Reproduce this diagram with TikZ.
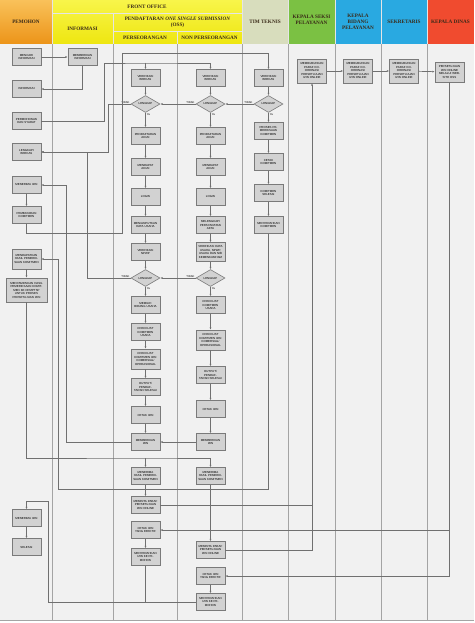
\documentclass[tikz,border=0pt]{standalone}
\usepackage{fontspec}
\setmainfont{Liberation Sans}
\newfontfamily\headfont{Liberation Serif}
\usetikzlibrary{shapes.geometric,arrows.meta}
\definecolor{pemA}{HTML}{F9C15A}
\definecolor{pemB}{HTML}{EC9418}
\definecolor{foA}{HTML}{F8F54A}
\definecolor{foB}{HTML}{EEE610}
\definecolor{timclr}{HTML}{D8DDBD}
\definecolor{seksiclr}{HTML}{7BC143}
\definecolor{biruclr}{HTML}{29A9E1}
\definecolor{dinasclr}{HTML}{F04B2F}
\definecolor{bodybg}{HTML}{F1F1F1}
\definecolor{laneclr}{HTML}{A4A4A4}
\definecolor{boxfill}{HTML}{D2D2D2}
\definecolor{boxline}{HTML}{7A7A7A}
\definecolor{lineclr}{HTML}{707070}
\definecolor{headtxt}{HTML}{3A2A18}

\begin{document}
\begin{tikzpicture}[x=1pt,y=-1pt,>={Latex[length=2.4pt,width=2pt]},
  box/.style={draw=boxline,fill=boxfill,line width=.6pt,minimum width=29pt,minimum height=17pt,
    text width=24.5pt,inner xsep=2pt,inner ysep=.5pt,align=center,font=\fontsize{2.9}{3.5}\selectfont},
  cek/.style={draw=boxline,fill=boxfill,line width=.6pt,diamond,aspect=1.7,minimum width=29pt,
    minimum height=17pt,inner sep=0pt,font=\fontsize{2.9}{3.5}\selectfont},
  conn/.style={draw=lineclr,line width=.7pt},
  lane/.style={draw=laneclr,line width=.6pt},
  head/.style={font=\headfont\bfseries\fontsize{5.2}{6}\selectfont,text=headtxt,align=center,inner sep=0pt},
  lbl/.style={font=\fontsize{2.7}{3}\selectfont,inner sep=.6pt}]
  \useasboundingbox (0,0) rectangle (474,623);

  % body and lanes
  \fill[bodybg] (0,44) rectangle (474,620);
  \foreach \x in {52,113,177,242,288,335,381,427} \draw[lane] (\x,44) -- (\x,620);
  \draw[lane] (0,620) -- (474,620);

  % header
  \fill[top color=pemA,bottom color=pemB] (0,0) rectangle (52,44);
  \fill[top color=foA,bottom color=foB] (52,0) rectangle (242,44);
  \fill[timclr] (242,0) rectangle (288,44);
  \fill[seksiclr] (288,0) rectangle (335,44);
  \fill[biruclr] (335,0) rectangle (427,44);
  \fill[dinasclr] (427,0) rectangle (474,44);
  \foreach \x in {52,242,288,335,381,427} \draw[white!80!gray,line width=.6pt] (\x,0) -- (\x,44);
  \draw[white!80!gray,line width=.6pt] (52,13) -- (242,13) (113,13) -- (113,44) (113,31) -- (242,31) (177,31) -- (177,44);
  \node[head] (hPem) at (26,22) {PEMOHON};
  \node[head] (hFO) at (147,6.5) {FRONT OFFICE};
  \node[head] (hInfo) at (82.5,28.5) {INFORMASI};
  \node[head] (hOss) at (177.5,22) {PENDAFTARAN \textit{ONE SINGLE SUBMISSION}\\(OSS)};
  \node[head] (hPers) at (145,38) {PERSEORANGAN};
  \node[head] (hNon) at (209.5,38) {NON PERSEORANGAN};
  \node[head] (hTim) at (265,22) {TIM TEKNIS};
  \node[head] (hSeksi) at (311.5,20) {KEPALA SEKSI\\PELAYANAN};
  \node[head] (hBid) at (358,22) {KEPALA\\BIDANG\\PELAYANAN};
  \node[head] (hSek) at (404,22) {SEKRETARIS};
  \node[head] (hDin) at (450.5,22) {KEPALA DINAS};

  % pemohon
  \node[box] (pMencari) at (26.5,57) {MENCARI INFORMASI};
  \node[box] (pInfo) at (26.5,89) {INFORMASI};
  \node[box] (pMohon) at (26.5,121) {PERMOHONAN DAN SYARAT};
  \node[box] (pLengkapi) at (26.5,152) {LENGKAPI BERKAS};
  \node[box] (pTerima) at (26.5,185) {MENERIMA IZIN};
  \node[box] (pBayar) at (26.5,215) {PEMBAYARAN KOMITMEN};
  \node[box,minimum height=20pt] (pDapat) at (26.5,259) {MENDAPATKAN HASIL PEMERIKSAAN KOMITMEN};
  \node[box,text width=37pt,minimum height=24pt] (pSampai) at (26.5,290) {MENYAMPAIKAN HASIL PEMERIKSAAN KOMITMEN KE DPMPTSP UNTUK PROSES PERSETUJUAN IZIN};
  \node[box] (pTerimaIzin) at (26.5,518) {MENERIMA IZIN};
  \node[box] (pSelesai) at (26.5,547) {SELESAI};

  % informasi
  \node[box] (iBeri) at (82.5,57) {MEMBERIKAN INFORMASI};

  % perseorangan
  \node[box] (aVer) at (145.5,78) {VERIFIKASI BERKAS};
  \node[cek] (aCek) at (145.5,104) {LENGKAP};
  \node[box] (aDaftar) at (145.5,136) {PENDAFTARAN AKUN};
  \node[box] (aDapat) at (145.5,167) {MENDAPAT AKUN};
  \node[box] (aLogin) at (145.5,197) {LOGIN};
  \node[box] (aInput) at (145.5,225) {MENGINPUTKAN DATA USAHA};
  \node[box] (aNpwp) at (145.5,252) {VERIFIKASI NPWP};
  \node[cek] (aCekDua) at (145.5,278) {LENGKAP};
  \node[box] (aBidang) at (145.5,305) {MEMILIH BIDANG USAHA};
  \node[box] (aUsaha) at (145.5,332) {CHECKLIST KOMITMEN USAHA};
  \node[box,minimum height=20pt] (aKomersial) at (145.5,359) {CHECKLIST KOMITMEN IZIN KOMERSIAL/ OPERASIONAL};
  \node[box] (aOutput) at (145.5,387) {OUTPUT/ PENDAFTARAN SELESAI};
  \node[box] (aCetak) at (145.5,415) {CETAK IZIN};
  \node[box] (aBeri) at (145.5,442) {MEMBERIKAN IZIN};
  \node[box] (aHasil) at (145.5,476) {MENERIMA HASIL PEMERIKSAAN KOMITMEN};
  \node[box] (aParaf) at (145.5,505) {MEMINTA PARAF PERSETUJUAN IZIN ONLINE};
  \node[box] (aEfektif) at (145.5,530) {CETAK IZIN YANG EFEKTIF};
  \node[box] (aSerah) at (145.5,557) {MENYERAHKAN IZIN KE PEMOHON};

  % non perseorangan
  \node[box] (bVer) at (210.5,78) {VERIFIKASI BERKAS};
  \node[cek] (bCek) at (210.5,104) {LENGKAP};
  \node[box] (bDaftar) at (210.5,136) {PENDAFTARAN AKUN};
  \node[box] (bDapat) at (210.5,167) {MENDAPAT AKUN};
  \node[box] (bLogin) at (210.5,197) {LOGIN};
  \node[box] (bAkta) at (210.5,225) {MELENGKAPI PERSYARATAN AKTA};
  \node[box,minimum height=19pt,text width=27pt,inner xsep=.5pt] (bVerData) at (210.5,252) {VERIFIKASI DATA USAHA, NPWP, USAHA DAN NIB KEMENKUMHAM};
  \node[cek] (bCekDua) at (210.5,278) {LENGKAP};
  \node[box] (bUsaha) at (210.5,305) {CHECKLIST KOMITMEN USAHA};
  \node[box,minimum height=20pt] (bKomersial) at (210.5,340) {CHECKLIST KOMITMEN IZIN KOMERSIAL/ OPERASIONAL};
  \node[box] (bOutput) at (210.5,375) {OUTPUT/ PENDAFTARAN SELESAI};
  \node[box] (bCetak) at (210.5,409) {CETAK IZIN};
  \node[box] (bBeri) at (210.5,442) {MEMBERIKAN IZIN};
  \node[box] (bHasil) at (210.5,476) {MENERIMA HASIL PEMERIKSAAN KOMITMEN};
  \node[box] (bParaf) at (210.5,550) {MEMINTA PARAF PERSETUJUAN IZIN ONLINE};
  \node[box] (bEfektif) at (210.5,576) {CETAK IZIN YANG EFEKTIF};
  \node[box] (bSerah) at (210.5,602) {MENYERAHKAN IZIN KE PEMOHON};

  % tim teknis
  \node[box] (tVer) at (268.5,78) {VERIFIKASI BERKAS};
  \node[cek] (tCek) at (268.5,104) {LENGKAP};
  \node[box] (tProses) at (268.5,131) {PROSES PEMERIKSAAN KOMITMEN};
  \node[box] (tCetak) at (268.5,162) {CETAK KOMITMEN};
  \node[box] (tSelesai) at (268.5,193) {KOMITMEN SELESAI};
  \node[box] (tSerah) at (268.5,225) {MENYERAHKAN KOMITMEN};

  % kepala seksi, kepala bidang, sekretaris, kepala dinas
  \node[box,minimum height=24pt] (kSeksi) at (312,71) {MEMBUBUHKAN PARAF KOORDINASI PERSETUJUAN IZIN ONLINE};
  \node[box,minimum height=24pt] (kBidang) at (358,71) {MEMBUBUHKAN PARAF KOORDINASI PERSETUJUAN IZIN ONLINE};
  \node[box,minimum height=24pt] (kSek) at (404,71) {MEMBUBUHKAN PARAF KOORDINASI PERSETUJUAN IZIN ONLINE};
  \node[box,minimum height=20pt] (kDinas) at (449.5,72) {PERSETUJUAN IZIN ONLINE MELALUI WEBSITE OSS};

  % join points
  \coordinate (jPers) at (145.5,63);
  \coordinate (jHasil) at (145.5,458);
  \coordinate (jParaf) at (312,505);
  \coordinate (jEfektif) at (449.5,530);
  \coordinate (jSerah) at (145.5,602);

  % straight arrows
  \foreach \a/\b in {pMencari/iBeri,pTerima/pBayar,pDapat/pSampai,pTerimaIzin/pSelesai,
      aVer/aCek,aCek/aDaftar,aDaftar/aDapat,aDapat/aLogin,aLogin/aInput,aInput/aNpwp,aNpwp/aCekDua,
      aCekDua/aBidang,aBidang/aUsaha,aUsaha/aKomersial,aKomersial/aOutput,aOutput/aCetak,aCetak/aBeri,
      aHasil/aParaf,aEfektif/aSerah,
      bVer/bCek,bCek/bDaftar,bDaftar/bDapat,bDapat/bLogin,bLogin/bAkta,bAkta/bVerData,bVerData/bCekDua,
      bCekDua/bUsaha,bUsaha/bKomersial,bKomersial/bOutput,bOutput/bCetak,bCetak/bBeri,
      bHasil/bParaf,bEfektif/bSerah,
      tVer/tCek,tCek/tProses,tProses/tCetak,tCetak/tSelesai,tSelesai/tSerah,
      kSeksi/kBidang,kBidang/kSek,kSek/kDinas,
      tCek/bCek,bCek/aCek,bCekDua/aCekDua,bBeri/aBeri}
    \draw[conn,->] (\a) -- (\b);

  % ya / tidak
  \foreach \d in {aCek,bCek,tCek,aCekDua,bCekDua} {
    \node[lbl,anchor=north west] (ya\d) at ([xshift=.5pt]\d.south) {Ya};
    \node[lbl,anchor=south east] (tidak\d) at ([xshift=-.5pt]\d.west) {TIDAK};
  }

  % bent connectors
  \draw[conn,->] (iBeri.south) |- (pInfo.east);
  \draw[conn,->] (pMohon.east) -- (104,121) |- (jPers) -| (bVer.north);
  \draw[conn,->] (jPers) -- (aVer.north);
  \draw[conn,->] (aCek.west) -- (108,104) |- (pLengkapi.east);
  \draw[conn,->] (aCekDua.west) -- (87,278) |- (pLengkapi.east);
  \draw[conn,->] (aBeri.west) -- (66,442) |- (pTerima.east);
  \draw[conn,->] (pBayar.south) |- (122,233) |- (268.5,53) -- (tVer.north);
  \draw[conn,->] (tSerah.south) |- (58,489) |- (pDapat.east);
  \draw[conn,->] (pSampai.south) |- (jHasil) -| (bHasil.north);
  \draw[conn,->] (jHasil) -- (aHasil.north);
  \draw[conn] (aParaf.east) -- (jParaf);
  \draw[conn,->] (bParaf.east) -| (kSeksi.south);
  \draw[conn,->] (kDinas.south) |- (bEfektif.east);
  \draw[conn,->] (jEfektif) -- (aEfektif.east);
  \draw[conn] (bSerah.west) -- (jSerah);
  \draw[conn,->] (aSerah.south) -- (jSerah) -- (48,602) |- (26.5,501) -- (pTerimaIzin.north);
\end{tikzpicture}
\end{document}
